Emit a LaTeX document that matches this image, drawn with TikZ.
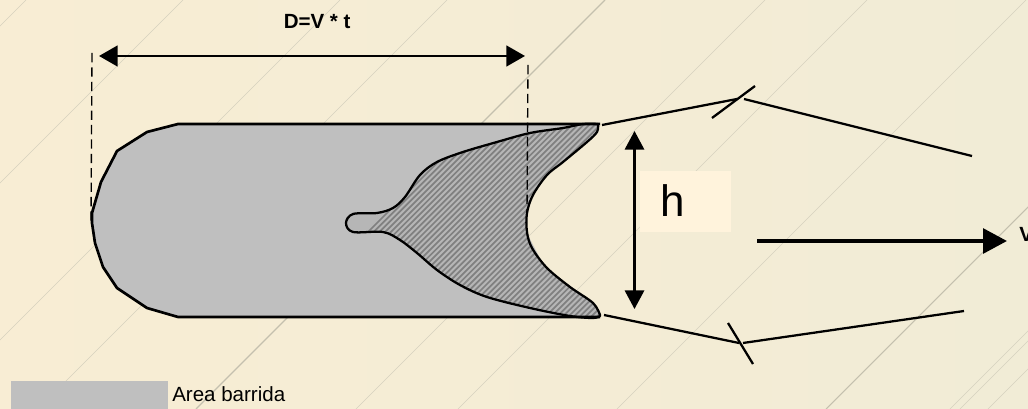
\documentclass[tikz,border=0pt]{standalone}
\usepackage{fontspec}
\setmainfont{Liberation Sans}
\usetikzlibrary{arrows.meta}
\definecolor{bgL}{HTML}{F8EDD4}
\definecolor{bgR}{HTML}{F1ECD6}
\definecolor{swept}{HTML}{BFBFBF}
\definecolor{boxh}{HTML}{FFF3DC}
\definecolor{diagthin}{HTML}{D6D2BE}
\definecolor{diagthick}{HTML}{C4C0AE}
\definecolor{hatchbg}{HTML}{B6B6B6}
\definecolor{hatchfg}{HTML}{808080}
\tikzset{
  x=0.75pt,y=-0.75pt,
  bgline/.style={draw=diagthin,line width=0.5pt},
  bgthick/.style={draw=diagthick,line width=0.8pt},
  outline/.style={draw=black,line width=2pt,line join=round},
  thinline/.style={draw=black,line width=1.7pt},
  dashline/.style={draw=black,line width=1pt,dash pattern=on 7pt off 3.8pt},
  lbl/.style={inner sep=0pt,anchor=base west,text=black,font=\fontsize{15.4pt}{18pt}\selectfont},
  blbl/.style={lbl,font=\fontsize{15.4pt}{18pt}\selectfont\bfseries},
}
\begin{document}
\begin{tikzpicture}
\useasboundingbox (0,0) rectangle (1028,409);
\shade[left color=bgL,right color=bgR] (0,0) rectangle (1028,409);
% background diagonals
\foreach \s in {26,183,340,447,765,867,1026,1359,1369,1397}{\draw[bgline] (\s,0) -- ({\s-409},409);}
\foreach \s in {605,1235}{\draw[bgthick] (\s,0) -- ({\s-409},409);}
% swept area
\def\leftprofile{(178,317) -- (147,308) -- (117,288) -- (103,267) -- (95,243) -- (92,223) -- (92,213) -- (101,182) -- (117,151) -- (147,132) -- (178,124)}
\path[fill=swept] \leftprofile -- (590,124) -- (565,135) -- (520,220) -- (565,306) -- (590,317) -- cycle;
\def\hatchshape{plot[smooth,tension=0.55] coordinates {(598,124) (597,132) (587,142) (563,162) (547,175) (533,195) (527,213) (527,232) (532,248) (547,268) (570,287) (593,303) (600,315)}
 -- plot[smooth,tension=0.55] coordinates {(600,316) (593,318) (570,316) (530,308) (487,297) (460,285) (437,270) (417,253) (400,240) (383,232) (353,232) (346,223) (353,214) (377,213) (393,208) (405,197) (420,175) (437,162) (463,152) (497,142) (530,133) (563,128) (583,124) (598,124)}}
\fill[hatchbg] \hatchshape -- cycle;
\begin{scope}
  \clip \hatchshape -- cycle;
  \foreach \s in {500,505.7,...,940}{\draw[draw=hatchfg,line width=1.3pt] (\s,100) -- ({\s-240},340);}
\end{scope}
\draw[draw=black,line width=1.7pt,line join=round] \hatchshape -- cycle;
% outline of swept area
\draw[outline] (600,317) -- \leftprofile -- (600,124);
% width marks
\coordinate (dl0) at (92,53); \coordinate (dl1) at (91,225);
\coordinate (dr0) at (528,65); \coordinate (dr1) at (527,213);
\draw[dashline] (dl0) -- (dl1);
\draw[dashline] (dr0) -- (dr1);
\coordinate (dA) at (99,56); \coordinate (dB) at (525,56);
\draw[draw=black,line width=2pt,{Triangle[length=14pt,width=15.5pt]}-{Triangle[length=14pt,width=15.5pt]}] (dA) -- (dB);
\node[blbl] (dlabel) at (283.5,28.2) {D=V * t};
% h
\node[fill=boxh,inner sep=0pt,minimum width=68.25pt,minimum height=45.75pt] (hbox) at (685.5,201.5) {};
\node[inner sep=0pt,anchor=base west,font=\fontsize{33pt}{36pt}\selectfont] (hlabel) at (660,217) {h};
\coordinate (hA) at (634.5,131); \coordinate (hB) at (634.5,309);
\draw[draw=black,line width=1.7pt,{Triangle[length=14pt,width=14.5pt]}-{Triangle[length=14pt,width=14.5pt]}] (hA) -- (hB);
% velocity
\coordinate (vA) at (757,241); \coordinate (vB) at (1007,241);
\draw[draw=black,line width=3pt,-{Triangle[length=18pt,width=18.5pt]}] (vA) -- (vB);
\node[blbl] (vlabel) at (1019,241.7) {V};
% broken edges
\coordinate (t0) at (602,125); \coordinate (t1) at (737,99);
\coordinate (t2) at (744,99); \coordinate (t3) at (972,156);
\coordinate (t4) at (712,118); \coordinate (t5) at (755,86);
\coordinate (b0) at (604,315); \coordinate (b1) at (739,343);
\coordinate (b2) at (743,343); \coordinate (b3) at (964,311);
\coordinate (b4) at (728,323); \coordinate (b5) at (753,364);
\draw[thinline] (t0) -- (t1);
\draw[thinline] (t2) -- (t3);
\draw[thinline] (t4) -- (t5);
\draw[thinline] (b0) -- (b1);
\draw[thinline] (b2) -- (b3);
\draw[thinline] (b4) -- (b5);
% legend
\node[fill=swept,inner sep=0pt,minimum width=117.75pt,minimum height=21pt,anchor=north west] (legend) at (11,381) {};
\node[lbl] (legendtext) at (172,402) {Area barrida};
\end{tikzpicture}
\end{document}
